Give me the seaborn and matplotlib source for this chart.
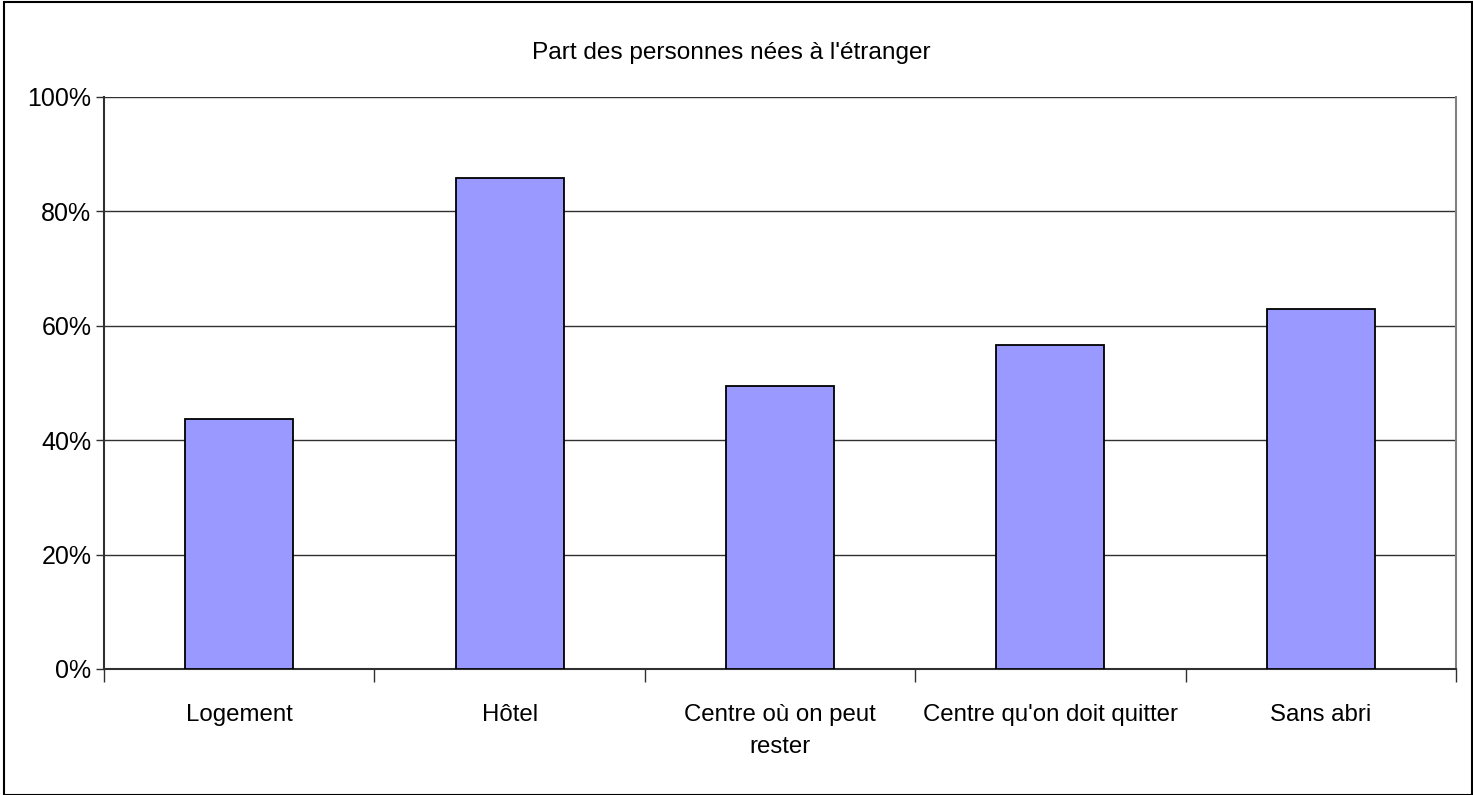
import matplotlib
matplotlib.use("Agg")
import matplotlib.pyplot as plt
import seaborn as sns
import pandas as pd
import numpy as np
from matplotlib.patches import Rectangle
from matplotlib.ticker import FixedLocator, PercentFormatter

categories = ["Logement", "Hôtel", "Centre où on peut\nrester", "Centre qu'on doit quitter", "Sans abri"]
values = [43.6, 85.8, 49.4, 56.6, 62.8]
yticks = [0, 20, 40, 60, 80, 100]
title = "Part des personnes nées à l'étranger"

sns.set_theme(style="white")
plt.rcParams['font.family'] = ['Liberation Sans', 'DejaVu Sans']
plt.rcParams['text.color'] = 'black'

df = pd.DataFrame({"cat": categories, "val": values})

fig = plt.figure(figsize=(14.73, 7.95), dpi=100)
ax = fig.add_axes([104/1473, 1-669/795, (1456-104)/1473, (669-96.5)/795])

sns.barplot(data=df, x="cat", y="val", ax=ax, color="#9999ff", saturation=1,
            width=0.4, edgecolor="black", linewidth=1.3, zorder=3)

ax.set_ylim(0, 100)
ax.set_xlim(-0.5, len(categories) - 0.5)
ax.set_yticks(yticks)
ax.yaxis.set_major_formatter(PercentFormatter(decimals=0))
for y in yticks[1:]:
    ax.axhline(y, color="#303030", linewidth=1.0, zorder=1)

ax.set_xlabel("")
ax.set_ylabel("")
ax.tick_params(axis="y", which="major", direction="out", length=6, width=1, color="#303030",
               labelsize=18, pad=3, left=True, labelcolor="black")
ax.tick_params(axis="x", which="major", length=0, labelsize=17.3, pad=25, labelcolor="black")
ax.xaxis.set_minor_locator(FixedLocator(np.arange(-0.5, len(categories), 1.0)))
ax.tick_params(axis="x", which="minor", direction="out", length=9, width=1, color="#303030", bottom=True)
for lab in ax.get_xticklabels():
    lab.set_linespacing(1.6)

for side in ["left", "bottom"]:
    ax.spines[side].set_color("#303030")
    ax.spines[side].set_linewidth(1.5)
ax.spines["right"].set_color("#808080")
ax.spines["right"].set_linewidth(1.5)
ax.spines["top"].set_visible(False)

fig.text(0.4965, 1-53/795, title, ha="center", va="center", fontsize=17.6, color="black")

fig.patches.append(Rectangle((4/1473, 0.5/795), 1-5.5/1473, 1-2/795, transform=fig.transFigure,
                             fill=False, edgecolor="#000000", linewidth=1.5))

fig.savefig("out.png", dpi=100)
